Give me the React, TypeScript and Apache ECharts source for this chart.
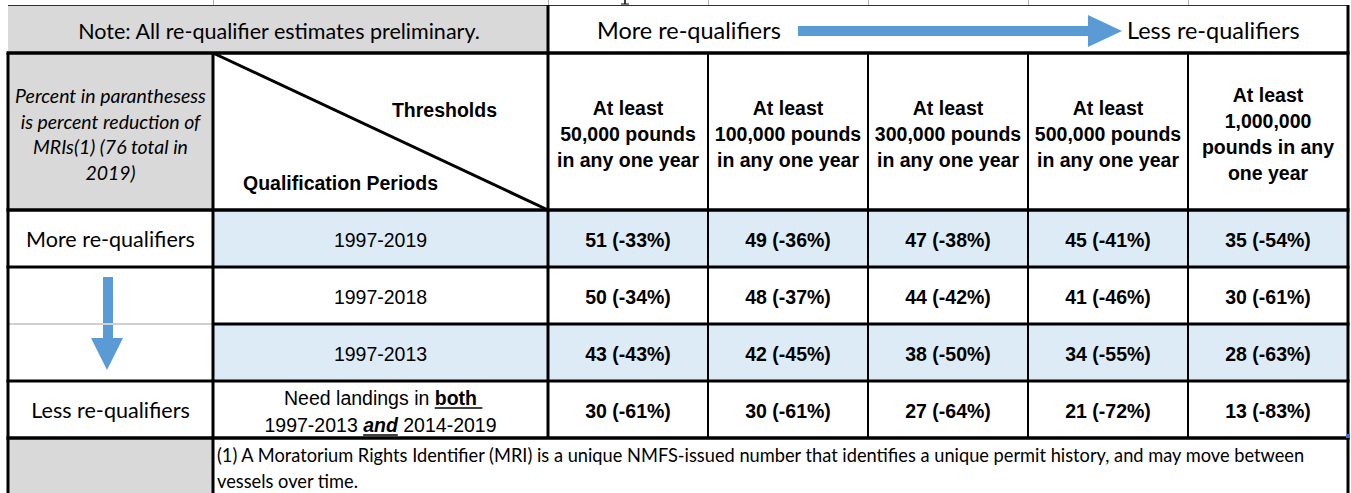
import React, { useEffect, useRef } from "react";
import * as echarts from "echarts";

// ---------- data ----------
const noteText = "Note: All re-qualifier estimates preliminary.";
const moreLabel = "More re-qualifiers";
const lessLabel = "Less re-qualifiers";
const sideNote = ["Percent in paranthesess", "is percent reduction of", "MRIs(1) (76 total in", "2019)"];
const thresholdsTitle = "Thresholds";
const periodsTitle = "Qualification Periods";
const thresholdHeaders = [
  ["At least", "50,000 pounds", "in any one year"],
  ["At least", "100,000 pounds", "in any one year"],
  ["At least", "300,000 pounds", "in any one year"],
  ["At least", "500,000 pounds", "in any one year"],
  ["At least", "1,000,000", "pounds in any", "one year"],
];
const periods = ["1997-2019", "1997-2018", "1997-2013", "both periods"];
const counts = [
  [51, 49, 47, 45, 35],
  [50, 48, 44, 41, 30],
  [43, 42, 38, 34, 28],
  [30, 30, 27, 21, 13],
];
const reductions = [
  [-33, -36, -38, -41, -54],
  [-34, -37, -42, -46, -61],
  [-43, -45, -50, -55, -63],
  [-61, -61, -64, -72, -83],
];
const footnote = [
  "(1) A Moratorium Rights Identifier (MRI) is a unique NMFS-issued number that identifies a unique permit history, and may move between",
  "vessels over time.",
];

// ---------- styles ----------
const ARIAL = '"Liberation Sans", Arial, sans-serif';
const CALIBRI = 'Lato, "Noto Sans", sans-serif';
const GRAY = "#d9d9d9";
const BLUE_ROW = "#ddebf7";
const ARROW = "#5b9bd5";
const INK = "#000000";

export default function App() {
  const ref = useRef<HTMLDivElement>(null);
  useEffect(() => {
    const el = ref.current!;
    const chart = echarts.init(el, null, { renderer: "svg" });
    const ctx = document.createElement("canvas").getContext("2d")!;
    const measure = (t: string, font: string) => {
      ctx.font = font;
      return ctx.measureText(t).width;
    };
    const fit = (t: string, target: number, style = "normal", weight = "normal", family = CALIBRI) =>
      (100 * target) / measure(t, `${style} ${weight} 100px ${family}`);

    // layout
    const L = 8, R = 1348, C1 = 213, C2 = 548;
    const T = 5, H1 = 53, H2 = 210, B = 438;
    const gridW = R - C2, gridH = B - H2;
    const colW = gridW / 5, rowH = gridH / 4;
    const rowY = (i: number) => H2 + rowH * i;

    const noteSize = fit(noteText, 403);
    const headSize = fit(moreLabel, 184);
    const rowLabelSize = fit(moreLabel, 169);
    const sideSize = fit(sideNote[0], 191, "italic");
    const footSize = fit(footnote[0], 1090);
    const AR = 19.5;

    const g: any[] = [];
    // backgrounds
    g.push({ type: "rect", shape: { x: L, y: T, width: C2 - L, height: H1 - T }, style: { fill: GRAY }, z: 1 });
    g.push({ type: "rect", shape: { x: L, y: H1, width: C1 - L, height: H2 - H1 }, style: { fill: GRAY }, z: 1 });
    g.push({ type: "rect", shape: { x: L, y: B, width: C1 - L, height: 60 }, style: { fill: GRAY }, z: 1 });
    periods.forEach((p, i) => {
      if (i % 2 === 0)
        g.push({ type: "rect", shape: { x: C1, y: rowY(i), width: C2 - C1, height: rowH }, style: { fill: BLUE_ROW }, z: 1 });
    });

    // cropped descender mark of the page title above the table
    g.push({ type: "line", shape: { x1: 625, y1: 0, x2: 625, y2: 4 }, style: { stroke: INK, lineWidth: 1.5 }, z: 2 });
    g.push({ type: "line", shape: { x1: 621, y1: 4, x2: 629, y2: 4 }, style: { stroke: INK, lineWidth: 1 }, z: 2 });

    // texts: note row
    g.push({ type: "text", x: 279, y: 31, style: { text: noteText, fontFamily: CALIBRI, fontSize: noteSize, fill: INK, align: "center", verticalAlign: "middle" }, z: 20 });
    g.push({ type: "text", x: 597, y: 30, style: { text: moreLabel, fontFamily: CALIBRI, fontSize: headSize, fill: INK, align: "left", verticalAlign: "middle" }, z: 20 });
    g.push({ type: "text", x: 1127, y: 30, style: { text: lessLabel, fontFamily: CALIBRI, fontSize: headSize, fill: INK, align: "left", verticalAlign: "middle" }, z: 20 });
    // horizontal arrow
    g.push({
      type: "polygon",
      shape: { points: [[798, 26], [1088, 26], [1088, 15], [1122, 31], [1088, 47], [1088, 36], [798, 36]] },
      style: { fill: ARROW }, z: 15,
    });

    // header row 2
    g.push({ type: "text", x: (L + C1) / 2, y: 134, style: { text: sideNote.join("\n"), fontFamily: CALIBRI, fontStyle: "italic", fontSize: sideSize, lineHeight: 25.5, fill: INK, align: "center", verticalAlign: "middle" }, z: 20 });
    g.push({ type: "text", x: 497, y: 110, style: { text: thresholdsTitle, fontFamily: ARIAL, fontWeight: "bold", fontSize: AR, fill: INK, align: "right", verticalAlign: "middle" }, z: 20 });
    g.push({ type: "text", x: 243, y: 183, style: { text: periodsTitle, fontFamily: ARIAL, fontWeight: "bold", fontSize: AR, fill: INK, align: "left", verticalAlign: "middle" }, z: 20 });
    thresholdHeaders.forEach((h, i) => {
      g.push({ type: "text", x: C2 + colW * i + colW / 2, y: 134, style: { text: h.join("\n"), fontFamily: ARIAL, fontWeight: "bold", fontSize: AR, lineHeight: 26, fill: INK, align: "center", verticalAlign: "middle" }, z: 20 });
    });

    // row labels (col 1)
    g.push({ type: "text", x: (L + C1) / 2, y: rowY(0) + rowH / 2, style: { text: moreLabel, fontFamily: CALIBRI, fontSize: rowLabelSize, fill: INK, align: "center", verticalAlign: "middle" }, z: 20 });
    g.push({ type: "text", x: (L + C1) / 2, y: rowY(3) + rowH / 2, style: { text: lessLabel, fontFamily: CALIBRI, fontSize: rowLabelSize, fill: INK, align: "center", verticalAlign: "middle" }, z: 20 });
    // down arrow
    g.push({
      type: "polygon",
      shape: { points: [[103, 277], [113, 277], [113, 338], [123, 338], [107, 370], [91, 338], [103, 338]] },
      style: { fill: ARROW }, z: 15,
    });

    // period labels (col 2)
    const cx2 = (C1 + C2) / 2;
    periods.slice(0, 3).forEach((p, i) => {
      g.push({ type: "text", x: cx2, y: rowY(i) + rowH / 2 + 1, style: { text: p, fontFamily: ARIAL, fontSize: AR, fill: INK, align: "center", verticalAlign: "middle" }, z: 20 });
    });
    // composite last period label
    const reg = `normal normal ${AR}px ${ARIAL}`;
    const bld = `normal bold ${AR}px ${ARIAL}`;
    const bit = `italic bold ${AR}px ${ARIAL}`;
    const line1 = [
      { t: "Need landings in ", f: reg, w: "normal", s: "normal", u: false },
      { t: "both ", f: bld, w: "bold", s: "normal", u: true },
    ];
    const line2 = [
      { t: "1997-2013 ", f: reg, w: "normal", s: "normal", u: false },
      { t: "and", f: bit, w: "bold", s: "italic", u: true },
      { t: " 2014-2019", f: reg, w: "normal", s: "normal", u: false },
    ];
    const placeLine = (parts: any[], y: number, trimLast: boolean) => {
      const widths = parts.map((p) => measure(p.t, p.f));
      const visW = widths.reduce((a, b) => a + b, 0) - (trimLast ? measure(" ", parts[parts.length - 1].f) : 0);
      let x = cx2 - visW / 2;
      parts.forEach((p, k) => {
        g.push({ type: "text", x, y, style: { text: p.t, fontFamily: ARIAL, fontWeight: p.w, fontStyle: p.s, fontSize: AR, fill: INK, align: "left", verticalAlign: "middle" }, z: 20 });
        if (p.u) g.push({ type: "line", shape: { x1: x, y1: y + 10, x2: x + widths[k], y2: y + 10 }, style: { stroke: INK, lineWidth: 1.6 }, z: 20 });
        x += widths[k];
      });
    };
    placeLine(line1, 398, true);
    placeLine(line2, 425, false);

    // footnote
    g.push({ type: "text", x: 217, y: 455, style: { text: footnote[0], fontFamily: CALIBRI, fontSize: footSize, fill: INK, align: "left", verticalAlign: "middle" }, z: 20 });
    g.push({ type: "text", x: 217, y: 481, style: { text: footnote[1], fontFamily: CALIBRI, fontSize: footSize, fill: INK, align: "left", verticalAlign: "middle" }, z: 20 });

    // lines
    const hl = (x1: number, x2: number, y: number, w: number, c = INK) =>
      g.push({ type: "line", shape: { x1, y1: y, x2, y2: y }, style: { stroke: c, lineWidth: w }, z: 30 });
    const vl = (x: number, y1: number, y2: number, w: number, c = INK) =>
      g.push({ type: "line", shape: { x1: x, y1, x2: x, y2 }, style: { stroke: c, lineWidth: w }, z: 30 });
    // gridlines above table
    [C1, C2, C2 + colW, C2 + colW * 2, C2 + colW * 3, C2 + colW * 4].forEach((x) => vl(Math.round(x) + 0.5, 0, T, 1, "#b0b0b0"));
    hl(L, R, T + 0.5, 1.2, "#303030");
    hl(L - 1.5, R + 1.5, H1, 3.5);
    hl(L - 1.5, R + 1.5, H2, 3.5);
    hl(L - 1.5, R + 1.5, rowY(1), 3);
    hl(C1, R + 1.5, rowY(2), 3);
    hl(L, C1, rowY(2), 2, "#d0d0d0");
    hl(L - 1.5, R + 1.5, rowY(3), 3);
    hl(L - 1.5, R + 1.5, B, 3.5);
    vl(L, H1, 493, 3);
    vl(C1, H1, 493, 3);
    vl(C2, T, B, 3);
    for (let k = 1; k < 5; k++) vl(C2 + colW * k, H1, B, 2);
    vl(R, T, 493, 3);
    // diagonal in the header corner cell
    g.push({ type: "line", shape: { x1: C1, y1: H1, x2: C2, y2: H2 }, style: { stroke: INK, lineWidth: 3 }, z: 30 });
    g.push({ type: "rect", shape: { x: R - 2, y: B - 4, width: 4, height: 4 }, style: { fill: "#4472c4" }, z: 31 });

    const cellData: number[][] = [];
    counts.forEach((row, r) => row.forEach((v, c) => cellData.push([c, r, v])));

    chart.setOption({
      animation: false,
      grid: { left: C2, top: H2, width: gridW, height: gridH },
      xAxis: { type: "category", data: thresholdHeaders.map((h) => h.join(" ")), show: false },
      yAxis: { type: "category", data: periods, inverse: true, show: false },
      series: [
        {
          type: "custom",
          data: cellData,
          z: 5,
          renderItem: (params: any, api: any) => {
            const c = api.value(0), r = api.value(1);
            const [x, y] = api.coord([c, r]);
            const [w, h] = api.size([1, 1]);
            return {
              type: "group",
              children: [
                { type: "rect", shape: { x: x - w / 2, y: y - h / 2, width: w, height: h }, style: { fill: r % 2 === 0 ? BLUE_ROW : "#ffffff" } },
                { type: "text", style: { text: `${counts[r][c]} (${reductions[r][c]}%)`, x, y: y + 1, fontFamily: ARIAL, fontWeight: "bold", fontSize: AR, fill: INK, align: "center", verticalAlign: "middle" } },
              ],
            };
          },
        },
      ],
      graphic: { elements: g },
    });
    return () => chart.dispose();
  }, []);
  return <div ref={ref} style={{ position: "absolute", left: 0, top: 0, width: 1351, height: 493, background: "#ffffff" }} />;
}
